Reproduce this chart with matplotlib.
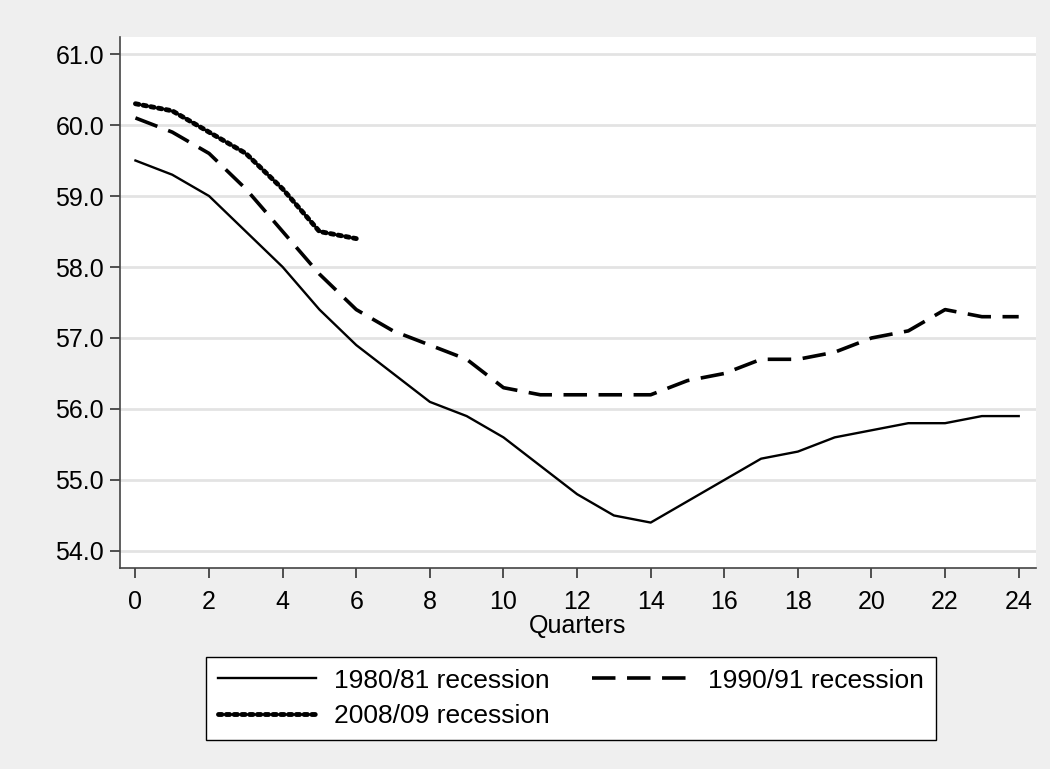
import matplotlib
matplotlib.use("Agg")
import matplotlib.pyplot as plt
import numpy as np

plt.rcParams['font.family'] = ['Liberation Sans', 'DejaVu Sans']

quarters = list(range(25))
rec_1980 = [59.5, 59.3, 59.0, 58.5, 58.0, 57.4, 56.9, 56.5, 56.1, 55.9, 55.6, 55.2, 54.8,
            54.5, 54.4, 54.7, 55.0, 55.3, 55.4, 55.6, 55.7, 55.8, 55.8, 55.9, 55.9]
rec_1990 = [60.1, 59.9, 59.6, 59.1, 58.5, 57.9, 57.4, 57.1, 56.9, 56.7, 56.3, 56.2, 56.2,
            56.2, 56.2, 56.4, 56.5, 56.7, 56.7, 56.8, 57.0, 57.1, 57.4, 57.3, 57.3]
quarters_2008 = list(range(7))
rec_2008 = [60.3, 60.2, 59.9, 59.6, 59.1, 58.5, 58.4]
labels = ["1980/81 recession", "1990/91 recession", "2008/09 recession"]
yticks = [54.0, 55.0, 56.0, 57.0, 58.0, 59.0, 60.0, 61.0]
xticks = list(range(0, 25, 2))

W, H = 1050, 769
fig = plt.figure(figsize=(W / 100, H / 100), dpi=100)
bg = '#efefef'
fig.patch.set_facecolor(bg)
ax = fig.add_axes([120 / W, 1 - 568 / H, (1036 - 120) / W, (568 - 37) / H])
ax.set_facecolor('white')

l1, = ax.plot(quarters, rec_1980, color='black', lw=1.7)
l2, = ax.plot(quarters, rec_1990, color='black', lw=2.6, dashes=(6.5, 3.2))
l3, = ax.plot(quarters_2008, rec_2008, color='black', lw=3.5, dashes=(0.7, 0.9),
              dash_capstyle='round')

ax.set_xlim(-0.42, 24.47)
ax.set_ylim(53.76, 61.24)
ax.set_yticks(yticks)
ax.set_yticklabels([f"{v:.1f}" for v in yticks])
ax.set_xticks(xticks)
ax.set_xticklabels([str(v) for v in xticks])
ax.tick_params(axis='both', labelsize=18, length=7.5, width=1.2, color='#333333',
               direction='out')
ax.tick_params(axis='x', pad=8)
ax.tick_params(axis='y', pad=4)
ax.grid(axis='y', color='#e3e3e3', lw=2)
ax.set_axisbelow(True)
for s in ['top', 'right']:
    ax.spines[s].set_visible(False)
for s in ['left', 'bottom']:
    ax.spines[s].set_color('#444444')
    ax.spines[s].set_linewidth(1.2)

fig.text(578 / W, 1 - 626 / H, "Quarters", fontsize=18, ha='center', va='center')

leg = fig.legend([l1, l3, l2], [labels[0], labels[2], labels[1]], ncol=2, loc='center',
                 bbox_to_anchor=((205 + 937) / 2 / W, 1 - 698.5 / H),
                 frameon=True, fancybox=False, fontsize=19, handlelength=3.7,
                 columnspacing=1.6, handletextpad=0.7, borderpad=0.45,
                 labelspacing=0.45, edgecolor='black', framealpha=1)
leg.get_frame().set_linewidth(1.0)

fig.savefig("out.png", dpi=100, facecolor=bg)
